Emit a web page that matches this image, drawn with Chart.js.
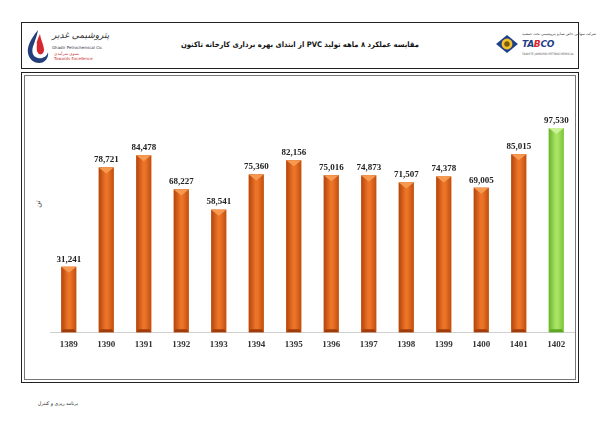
<!DOCTYPE html>
<html>
<head>
<meta charset="utf-8">
<script src="https://cdn.jsdelivr.net/npm/chart.js@4.4.1/dist/chart.umd.min.js"></script>
<style>
  html, body { margin: 0; padding: 0; background: #fff; }
  body { width: 600px; height: 424px; position: relative; overflow: hidden; font-family: "DejaVu Sans", sans-serif; }
  .box { position: absolute; box-sizing: border-box; }
  #header { left: 21px; top: 22px; width: 558px; height: 47px; border: 1px solid #222; }
  #outer { left: 21px; top: 72px; width: 558px; height: 311px; border: 1.5px solid #222; }
  #inner { left: 24px; top: 75px; width: 552px; height: 305px; border: 1px solid #777; }
  #title { position: absolute; left: 0; width: 600px; top: 40px; text-align: center; direction: rtl;
           font-family: "DejaVu Sans Condensed", "DejaVu Sans", sans-serif;
           font-size: 7.6px; font-weight: bold; color: #111; white-space: nowrap; }
  #unit { position: absolute; left: 34px; top: 200px; font-size: 7px; color: #333; transform: rotate(-90deg); direction: rtl; }
  #footer { position: absolute; right: 522px; top: 401px; font-size: 4.8px; color: #222; direction: rtl; white-space: nowrap; }
  #chartWrap { position: absolute; left: 24px; top: 75px; width: 551px; height: 304px; }
  .tiny { position: absolute; white-space: nowrap; direction: rtl; }
</style>
</head>
<body>
<div class="box" id="header"></div>
<div class="box" id="outer"></div>
<div class="box" id="inner"></div>

<!-- left logo -->
<svg style="position:absolute;left:26px;top:28px" width="24" height="36" viewBox="0 0 24 36">
  <path d="M12 2 C4 12 1 19 2 25 C3 32 9 35 13 35 C19 35 23 30 22 24 C21 29 16 31 12 30 C6 29 5 22 8 16 C9 12 11 8 12 2 Z" fill="#233e7a"/>
  <path d="M14 6 C10 14 9 20 12 25 C14 28 18 26 18 22 C18 17 15 13 14 6 Z" fill="#d8262e"/>
  <path d="M11 14 C9 18 9 22 11 24 C10 20 11 17 11 14 Z" fill="#fff"/>
</svg>
<div class="tiny" style="left:52px;top:30px;font-size:9px;color:#333;font-style:italic">پتروشیمی غدیر</div>
<div class="tiny" style="left:52px;top:45px;font-size:4px;color:#334;direction:ltr">Ghadir Petrochemical Co.</div>
<div class="tiny" style="left:54px;top:51px;font-size:4px;color:#c33">بسوی سرآمدی</div>
<div class="tiny" style="left:54px;top:56px;font-size:4px;color:#c33;direction:ltr">Towards Excellence</div>

<!-- right logo -->
<svg style="position:absolute;left:495px;top:34px" width="24" height="20" viewBox="0 0 26 22">
  <path d="M13 1 L25 11 L13 21 L1 11 Z" fill="#1f3f86"/>
  <circle cx="13" cy="11" r="6" fill="#f2c12e"/>
  <circle cx="13" cy="11" r="3" fill="#7a5a10"/>
</svg>
<div class="tiny" style="left:522px;top:32px;font-size:3.5px;color:#333">شرکت سهامی خاص صنایع پتروشیمی تخت جمشید</div>
<div class="tiny" style="left:522px;top:39px;font-size:9px;font-style:italic;font-weight:bold;color:#1f3f86;direction:ltr;letter-spacing:-0.3px">TA<span style="color:#d8262e">B</span>CO</div>
<div class="tiny" style="left:522px;top:52px;font-size:3px;color:#555;direction:ltr">TAKHTE JAMSHID PETROCHEMICAL</div>

<div id="title">مقایسه عملکرد ۸ ماهه تولید PVC از ابتدای بهره برداری کارخانه تاکنون</div>
<div id="unit">تن</div>
<div id="footer">برنامه ریزی و کنترل</div>

<div id="chartWrap"><canvas id="pvcChart"></canvas></div>

<script>
// years (Persian calendar)
const years = ["1389", "1390", "1391", "1392", "1393", "1394", "1395",
               "1396", "1397", "1398", "1399", "1400", "1401", "1402"];
// 8-month PVC production, tons
const production = [31241, 78721, 84478, 68227, 58541, 75360, 82156,
                    75016, 74873, 71507, 74378, 69005, 85015, 97530];
const yMax = 120000;

const orange = { edge: "#b3440c", mid: "#ec7427", edge2: "#c04e0f", cap: "#f69a52", base: "#a03c0b" };
const green = { edge: "#66b32a", mid: "#a9e363", edge2: "#78c437", cap: "#cdf29a", base: "#5ea625" };

function paletteFor(i) {
  return i === years.length - 1 ? green : orange;
}

// cylinder shading + pointed cap, and value labels on top
const barStyle = {
  id: "barStyle",
  afterDatasetsDraw(chart) {
    const ctx = chart.ctx;
    const meta = chart.getDatasetMeta(0);
    meta.data.forEach((bar, i) => {
      const p = paletteFor(i);
      const left = bar.x - bar.width / 2;
      const right = bar.x + bar.width / 2;
      const top = bar.y;
      const base = bar.base;

      ctx.save();
      const g = ctx.createLinearGradient(left, 0, right, 0);
      g.addColorStop(0, p.edge);
      g.addColorStop(0.45, p.mid);
      g.addColorStop(0.6, p.mid);
      g.addColorStop(1, p.edge2);
      ctx.fillStyle = g;
      ctx.fillRect(left, top, right - left, base - top);

      // cap
      ctx.beginPath();
      ctx.moveTo(left, top);
      ctx.lineTo(right, top);
      ctx.lineTo(bar.x, top + 6);
      ctx.closePath();
      ctx.fillStyle = p.cap;
      ctx.fill();

      // bottom bevel
      ctx.beginPath();
      ctx.moveTo(left, base);
      ctx.lineTo(right, base);
      ctx.lineTo(right - 2, base - 3);
      ctx.lineTo(left + 2, base - 3);
      ctx.closePath();
      ctx.fillStyle = p.base;
      ctx.fill();

      // value
      ctx.fillStyle = "#222";
      ctx.font = "bold 9px 'Liberation Serif', serif";
      ctx.textAlign = "center";
      ctx.textBaseline = "bottom";
      ctx.fillText(production[i].toLocaleString("en-US"), bar.x, top - 3);
      ctx.restore();
    });
  }
};

new Chart(document.getElementById("pvcChart").getContext("2d"), {
  type: "bar",
  data: {
    labels: years,
    datasets: [
      {
        data: production,
        backgroundColor: years.map((y, i) => paletteFor(i).mid),
        borderWidth: 0,
        barPercentage: 0.8,
        categoryPercentage: 0.5,
      },
    ],
  },
  options: {
    responsive: true,
    maintainAspectRatio: false,
    animation: false,
    layout: {
      padding: { left: 26, right: 0, top: 6, bottom: 22 },
    },
    scales: {
      x: {
        grid: { display: false, drawTicks: false },
        border: { color: "#d0d0d0", width: 1 },
        ticks: {
          color: "#333",
          padding: 7,
          font: { family: "'Liberation Serif', serif", size: 9, weight: "bold" },
        },
      },
      y: {
        display: false,
        min: 0,
        max: yMax,
      },
    },
    plugins: {
      legend: { display: false },
      tooltip: { enabled: false },
    },
  },
  plugins: [barStyle],
});
</script>
</body>
</html>
